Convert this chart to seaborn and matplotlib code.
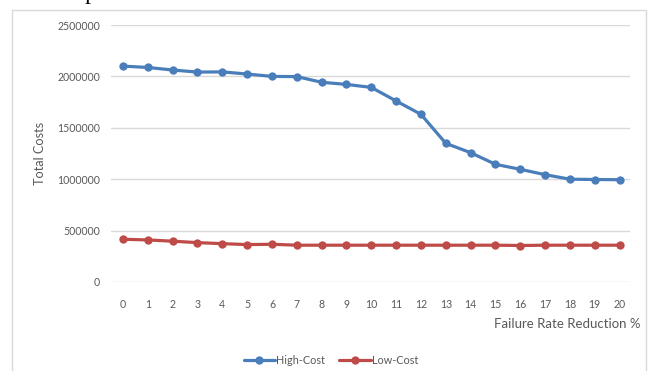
import matplotlib
matplotlib.use("Agg")
import matplotlib.pyplot as plt
from matplotlib.patches import Rectangle
import seaborn as sns
import pandas as pd

# Failure rate reduction steps (%) and total costs for each scenario
reduction = list(range(21))
high_cost = [2100000, 2087000, 2062000, 2042000, 2044000, 2023000, 2000000, 1998000,
             1943000, 1922000, 1893000, 1761000, 1631000, 1349000, 1258000, 1145000,
             1096000, 1044000, 1000000, 997000, 995000]
low_cost = [416000, 409000, 397000, 383000, 373000, 364000, 367000, 358000,
            358000, 358000, 358000, 358000, 358000, 358000, 358000, 358000,
            355000, 358000, 358000, 358000, 358000]
series_names = ["High-Cost", "Low-Cost"]
y_ticks = [0, 500000, 1000000, 1500000, 2000000, 2500000]

df = pd.DataFrame({
    "Failure Rate Reduction %": reduction * 2,
    "Total Costs": high_cost + low_cost,
    "Series": [series_names[0]] * len(reduction) + [series_names[1]] * len(reduction),
})

sns.set_theme(style="white")
plt.rcParams["font.family"] = ["Lato", "DejaVu Sans"]

W, H = 649, 371
fig = plt.figure(figsize=(W / 100, H / 100), dpi=100)
fig.patch.set_facecolor("white")

# axes placed in pixel terms
left_px, right_px, top_px, bottom_px = 110.6, 630.0, 25.0, 282.0
ax = fig.add_axes([left_px / W, 1 - bottom_px / H,
                   (right_px - left_px) / W, (bottom_px - top_px) / H])

palette = {"High-Cost": "#4A7EBB", "Low-Cost": "#BE4B48"}
sns.lineplot(data=df, x="Failure Rate Reduction %", y="Total Costs", hue="Series",
             style="Series", markers=["o", "o"], dashes=False, palette=palette,
             linewidth=2.3, markersize=6, markeredgewidth=0, ax=ax, legend=True)

text_color = "#595959"
ax.set_xlim(-0.5, 20.42)
ax.set_ylim(0, 2500000)
ax.set_yticks(y_ticks)
ax.set_yticklabels([str(v) for v in y_ticks])
ax.set_xticks(reduction)
ax.set_xticklabels([str(v) for v in reduction])
ax.grid(axis="y", color="#D9D9D9", linewidth=1.0)
ax.grid(axis="x", visible=False)
ax.set_axisbelow(True)
for s in ax.spines.values():
    s.set_visible(False)
ax.tick_params(axis="both", length=0, labelsize=7.6, colors=text_color)
ax.tick_params(axis="y", pad=7.5)
ax.tick_params(axis="x", pad=12)

ax.set_xlabel("")
ax.set_ylabel("")
fig.text(40 / W, 1 - 153 / H, "Total Costs", rotation=90, ha="center", va="center",
         fontsize=9.2, color=text_color)
fig.text(641 / W, 1 - 324 / H, "Failure Rate Reduction %", ha="right", va="center",
         fontsize=9.5, color=text_color)

handles, labels = ax.get_legend_handles_labels()
ax.get_legend().remove()
fig.legend(handles, labels, loc="center", bbox_to_anchor=(331 / W, 1 - 360 / H),
           ncol=2, frameon=False, fontsize=7.8, handlelength=2.9, handletextpad=0.1,
           columnspacing=1.3, labelcolor=text_color)

# chart area border
fig.patches.append(Rectangle((11.5 / W, -0.05), (645.5 - 11.5) / W, 1.05 - 10 / H,
                             transform=fig.transFigure, fill=False,
                             edgecolor="#D9D9D9", linewidth=1.0))

# tail of the document line above the chart
fig.text(12 / W, 1 + 0.5 / H, "ual compared to Low-Cost one.", ha="left",
         va="baseline", fontsize=16.5, family="Liberation Serif", color="black")

fig.savefig("out.png", dpi=100, facecolor="white")
